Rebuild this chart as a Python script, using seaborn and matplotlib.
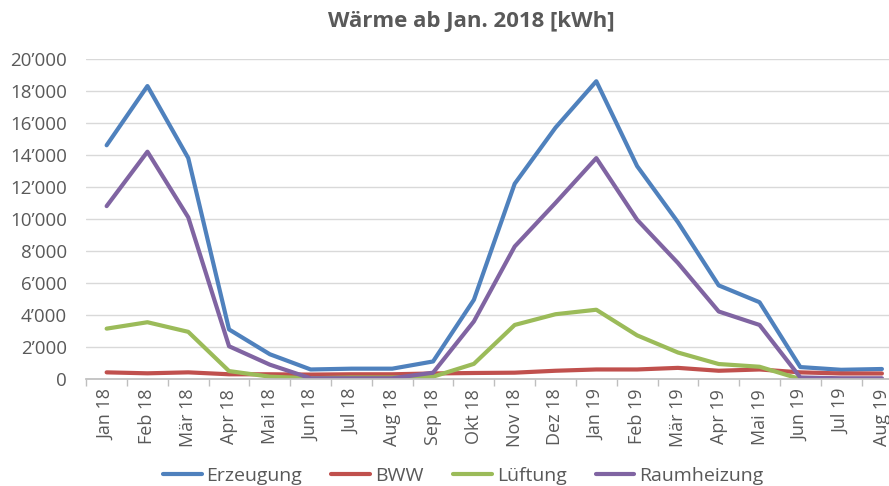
import pandas as pd
import matplotlib.pyplot as plt
import matplotlib.ticker as mticker
import seaborn as sns

# Monthly heat values [kWh]
months = ['Jan 18', 'Feb 18', 'Mär 18', 'Apr 18', 'Mai 18', 'Jun 18', 'Jul 18',
          'Aug 18', 'Sep 18', 'Okt 18', 'Nov 18', 'Dez 18', 'Jan 19', 'Feb 19',
          'Mär 19', 'Apr 19', 'Mai 19', 'Jun 19', 'Jul 19', 'Aug 19']
erzeugung = [14600, 18300, 13800, 3100, 1550, 600, 650, 650, 1100, 4950,
             12200, 15700, 18600, 13300, 9800, 5850, 4800, 750, 580, 630]
bww = [420, 360, 420, 300, 300, 280, 300, 300, 350, 380,
       400, 520, 600, 600, 700, 520, 600, 420, 350, 350]
lueftung = [3150, 3550, 2950, 500, 150, 50, 100, 100, 150, 950,
            3380, 4050, 4330, 2730, 1660, 940, 770, 0, 0, 0]
raumheizung = [10800, 14200, 10100, 2050, 900, 50, 50, 50, 400, 3600,
               8280, 11000, 13800, 9950, 7250, 4220, 3380, 100, 50, 50]

series = {'Erzeugung': erzeugung, 'BWW': bww,
          'Lüftung': lueftung, 'Raumheizung': raumheizung}
colors = {'Erzeugung': '#4F81BD', 'BWW': '#C0504D',
          'Lüftung': '#9BBB59', 'Raumheizung': '#8064A2'}

rows = []
for name, values in series.items():
    for i, v in enumerate(values):
        rows.append({'idx': i, 'Monat': months[i], 'kWh': v, 'Serie': name})
df = pd.DataFrame(rows)

sns.set_theme(style='white')
plt.rcParams['font.family'] = ['Open Sans', 'DejaVu Sans']

fig = plt.figure(figsize=(8.89, 4.86), dpi=100)
ax = fig.add_axes([0.097, 0.22, 0.918, 0.659])

sns.lineplot(data=df, x='idx', y='kWh', hue='Serie', palette=colors,
             linewidth=3, ax=ax, legend=False, sort=False)

ax.set_xlim(-0.5, len(months) - 0.5)
ax.set_ylim(0, 20000)
ax.yaxis.set_major_locator(mticker.MultipleLocator(2000))
ax.yaxis.set_major_formatter(mticker.FuncFormatter(
    lambda v, p: f'{int(v):,}'.replace(',', '\u2019')))
ax.grid(axis='y', color='#D9D9D9', linewidth=1)
ax.set_axisbelow(True)

ax.set_xticks(range(len(months)))
ax.set_xticklabels(months, rotation=90)
ax.set_xticks([i - 0.5 for i in range(len(months) + 1)], minor=True)
ax.tick_params(axis='x', which='major', length=0, pad=7, labelsize=13, labelcolor='#595959')
ax.tick_params(axis='x', which='minor', length=5, color='#BFBFBF', width=1, bottom=True)
ax.tick_params(axis='y', length=0, pad=14, labelsize=13.5, labelcolor='#595959')

for side in ['top', 'right', 'left']:
    ax.spines[side].set_visible(False)
ax.spines['bottom'].set_color('#BFBFBF')

ax.set_xlabel('')
ax.set_ylabel('')

fig.suptitle('Wärme ab Jan. 2018 [kWh]', x=0.53, y=0.978, fontsize=16,
             fontweight='bold', color='#595959')

handles = [plt.Line2D([], [], color=colors[n], linewidth=3) for n in series]
fig.legend(handles, list(series), loc='center', bbox_to_anchor=(0.521, 0.02),
           ncol=4, frameon=False, fontsize=14, handlelength=2.0,
           columnspacing=1.5, handletextpad=0.25, labelcolor='#595959')

plt.savefig('out.png', dpi=100)
